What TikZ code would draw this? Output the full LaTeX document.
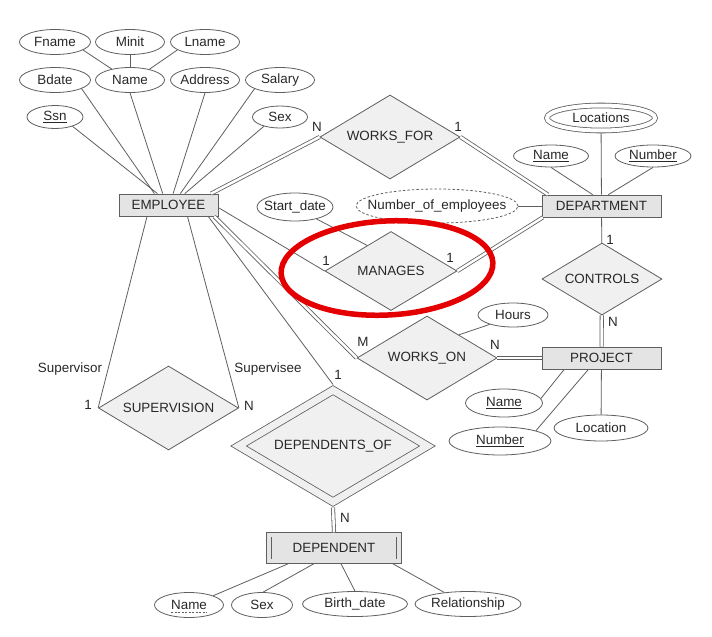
\documentclass[tikz,border=0pt]{standalone}
\usepackage{fontspec}
\setmainfont{Liberation Sans}
\usetikzlibrary{shapes.geometric}
\definecolor{edge}{RGB}{95,95,95}
\definecolor{ink}{RGB}{40,40,40}
\definecolor{entfill}{RGB}{228,228,228}
\definecolor{relfill}{RGB}{240,240,240}
\definecolor{redmark}{RGB}{228,0,0}
\begin{document}
\begin{tikzpicture}[x=1pt,y=-1pt,
  every node/.style={font=\fontsize{13.4}{15}\selectfont,text=ink},
  entity/.style={draw=edge,line width=.8pt,fill=entfill,rectangle,minimum width=#1,minimum height=22pt,inner sep=0pt},
  relation/.style={draw=edge,line width=.8pt,fill=relfill,diamond,aspect=1.65,minimum width=140pt,minimum height=84pt,inner sep=0pt},
  attr/.style={draw=edge,line width=.8pt,fill=white,ellipse,minimum width=#1,minimum height=25pt,inner xsep=-12pt,inner ysep=0pt},
  link/.style={draw=edge,line width=.8pt},
  total/.style={draw=edge,line width=.8pt,double,double distance=2.5pt},
  card/.style={inner sep=0pt}]
\path[fill=white] (0,0) rectangle (712,637);
\node[entity=99pt] (emp) at (168.5,205) {EMPLOYEE};
\node[entity=119pt] (dept) at (601.5,206) {DEPARTMENT};
\node[entity=119pt] (proj) at (601.5,358) {PROJECT};
\node[entity=130pt,minimum height=26.5pt,double=entfill,double distance=3.7pt,outer sep=2.5pt] (dep) at (334,548) {DEPENDENT};
\node[relation] (wf) at (390,137) {WORKS\_FOR};
\node[relation,minimum width=132pt,minimum height=79pt] (mg) at (391,271) {MANAGES};
\node[relation] (wo) at (427,358) {WORKS\_ON};
\node[relation,minimum width=120pt,minimum height=72pt] (ctl) at (602,279) {CONTROLS};
\node[relation] (sup) at (168.5,408) {SUPERVISION};
\node[relation,minimum width=192pt,minimum height=115pt,double=relfill,double distance=7pt,outer sep=4pt] (depof) at (333,446) {DEPENDENTS\_OF};
\node[attr=71pt] (fname) at (55,42) {Fname};
\node[attr=69pt] (minit) at (130,42) {Minit};
\node[attr=69pt] (lname) at (205,42) {Lname};
\node[attr=71pt] (bdate) at (55,80) {Bdate};
\node[attr=69pt] (ename) at (130,80) {Name};
\node[attr=69pt] (addr) at (205,80) {Address};
\node[attr=69pt] (salary) at (280,80) {Salary};
\node[attr=56pt,minimum height=23pt] (ssn) at (55,117) {\underline{Ssn}};
\node[attr=55pt,minimum height=22pt] (esex) at (280,117) {Sex};
\node[attr=76pt,minimum height=28pt] (start) at (295,207) {Start\_date};
\node[attr=160pt,minimum height=34pt,dash pattern=on 2.5pt off 2pt] (nemp) at (437,206) {Number\_of\_employees};
\node[attr=108pt,double,double distance=4pt,outer sep=2.4pt] (loc) at (601,118) {Locations};
\node[attr=75pt,minimum height=22pt] (dname) at (551,156) {\underline{Name}};
\node[attr=76pt,minimum height=22pt] (dnum) at (653,156) {\underline{Number}};
\node[attr=70pt,minimum height=24pt] (hours) at (513,315) {Hours};
\node[attr=77pt,minimum height=28pt] (pname) at (504,403) {\underline{Name}};
\node[attr=102pt,minimum height=28pt] (pnum) at (500,441) {\underline{Number}};
\node[attr=94pt,minimum height=26pt] (ploc) at (601,428) {Location};
\node[attr=69pt] (dpname) at (189,605) {Name};
\node[attr=61pt] (dpsex) at (262,605) {Sex};
\node[attr=105pt] (bdt) at (355,604) {Birth\_date};
\node[attr=106pt] (rel) at (468,604) {Relationship};
\draw[edge,line width=.7pt,dash pattern=on 2pt off 1.5pt] ([shift={(-18,7)}]dpname.center) -- ([shift={(18,7)}]dpname.center);
\draw[link] (fname.-16) -- (ename.149);
\draw[link] (minit) -- (ename);
\draw[link] (lname.196) -- (ename.29);
\draw[link] (bdate.-18) -- (emp.141);
\draw[link] (ssn.-28) -- (emp.134);
\draw[link] (ename.south) -- (emp.117);
\draw[link] (addr.south) -- (emp.68);
\draw[link] (salary.199) -- (emp.44);
\draw[link] (esex.210) -- (emp.35);
\draw[total] (emp.15) -- (wf.west);
\draw[total] (wf.east) -- (dept.168);
\draw[link] (emp.-3.5) -- (mg.west);
\draw[total] (mg.east) -- (dept.191);
\draw[link] (start.-29) -- (mg.133);
\draw[link] (nemp) -- (dept);
\draw[link] (loc) -- (dept);
\draw[link] (dname.south) -- (dept.128);
\draw[link] (dnum.south) -- (dept.59);
\draw[link] (dept) -- (ctl);
\draw[total] (ctl) -- (proj);
\draw[total] (emp.-14) -- (wo.west);
\draw[total] (wo.east) -- (proj.west);
\draw[link] (hours.202) -- (wo.36);
\draw[link] (pname.7) -- (proj.197);
\draw[link] (pnum.16) -- (proj.221);
\draw[link] (ploc) -- (proj);
\draw[link] (emp.208) -- (sup.west);
\draw[link] (emp.-31) -- (sup.east);
\draw[link] (emp.-16) -- (depof.north);
\draw[total] (depof.south) -- (dep.north);
\draw[link] (dpname.21) -- (dep.199);
\draw[link] (dpsex.85) -- (dep.218);
\draw[link] (bdt.north) -- (dep.294);
\draw[link] (rel.154) -- (dep.-15);
\node[card] (wfn) at (317,127) {N};
\node[card] (wf1) at (458,127) {1};
\node[card] (mg1a) at (326,261) {1};
\node[card] (mg1b) at (450,258) {1};
\node[card] (ctl1) at (610,240) {1};
\node[card] (ctln) at (613,322) {N};
\node[card] (wom) at (363,342) {M};
\node[card] (won) at (495,345) {N};
\node[card] (sup1) at (88,405) {1};
\node[card] (supn) at (249,406) {N};
\node[card] (role1) at (70,369) {Supervisor};
\node[card] (role2) at (268,369) {Supervisee};
\node[card] (dof1) at (338,375) {1};
\node[card] (dofn) at (345,518) {N};
\draw[redmark,line width=5.5pt,rotate around={3:(387,268)}] (387,268) ellipse (106 and 47);
\end{tikzpicture}
\end{document}
